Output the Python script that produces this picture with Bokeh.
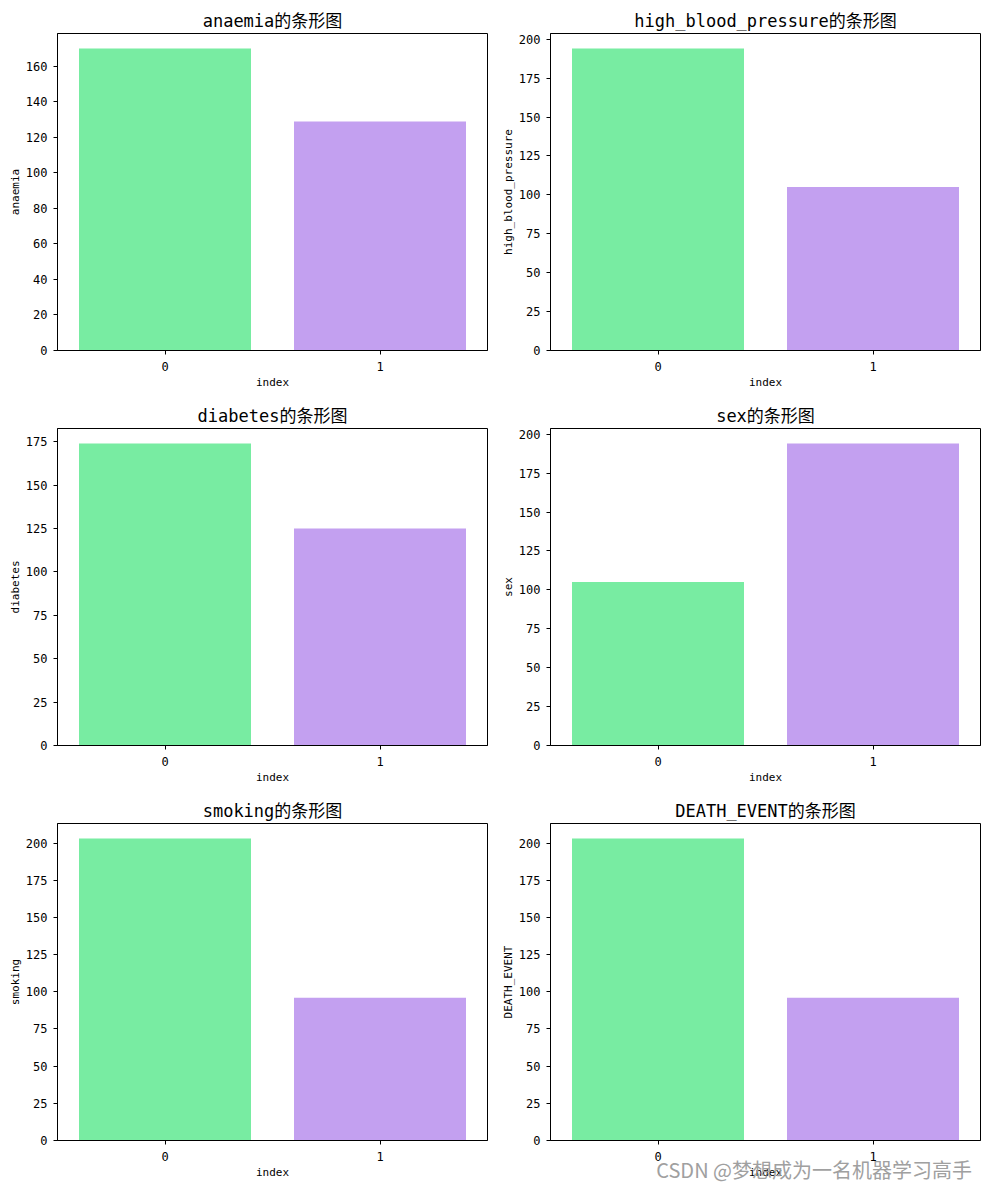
from bokeh.plotting import figure
from bokeh.layouts import column, row
from bokeh.models import Range1d, FixedTicker, SingleIntervalTicker, Div, ColumnDataSource
from bokeh.embed import file_html
from bokeh.resources import INLINE

# ---- data ----
columns_ = ["anaemia", "high_blood_pressure", "diabetes", "sex", "smoking", "DEATH_EVENT"]
categories = [0, 1]
count_0 = [170, 194, 174, 105, 203, 203]
count_1 = [129, 105, 125, 194, 96, 96]
tick_steps = [20, 25, 25, 25, 25, 25]
bar_colors = ["#78eca2", "#c3a0f0"]
watermark = "CSDN @梦想成为一名机器学习高手"

FONT = "DejaVu Sans Mono, Noto Sans CJK SC"


def make_fig(i, left_side, row_idx):
    name = columns_[i]
    vals = [count_0[i], count_1[i]]
    w = 492 if left_side else 489
    top_border = 33 if row_idx == 0 else 28
    bottom_border = 47 if row_idx == 2 else 50
    h = top_border + 317 + bottom_border
    p = figure(width=w, height=h, output_backend="svg", toolbar_location=None,
               x_range=Range1d(-0.5, 1.5), y_range=Range1d(0, max(vals) * 1.05),
               min_border_left=57 if left_side else 58,
               min_border_right=5 if left_side else 1,
               min_border_top=top_border, min_border_bottom=bottom_border,
               title=name + "的条形图")
    src = ColumnDataSource(dict(x=categories, top=vals, color=bar_colors))
    p.vbar(x="x", top="top", width=0.8, fill_color="color", line_color=None, source=src)
    p.title.text_font = FONT
    p.title.text_font_size = "17px"
    p.title.text_font_style = "normal"
    p.title.align = "center"
    p.title.standoff = 6
    p.title.text_color = "black"
    p.xgrid.visible = False
    p.ygrid.visible = False
    p.outline_line_color = "black"
    p.outline_line_alpha = 1.0
    p.background_fill_color = "white"
    p.xaxis.ticker = FixedTicker(ticks=categories)
    p.yaxis.ticker = SingleIntervalTicker(interval=tick_steps[i])
    p.xaxis.axis_label = "index"
    p.yaxis.axis_label = name
    for ax in (p.xaxis, p.yaxis):
        ax.axis_line_color = "black"
        ax.major_tick_line_color = "black"
        ax.minor_tick_line_color = None
        ax.major_tick_out = 4
        ax.major_tick_in = 0
        ax.major_label_text_font = FONT
        ax.major_label_text_font_size = "12px"
        ax.major_label_text_color = "black"
        ax.axis_label_text_font = FONT
        ax.axis_label_text_font_size = "11px"
        ax.axis_label_text_font_style = "normal"
        ax.axis_label_text_color = "black"
    p.xaxis.major_label_standoff = 7
    p.xaxis.axis_label_standoff = 2
    p.yaxis.major_label_standoff = 6
    p.yaxis.axis_label_standoff = 1
    return p


figs = []
for i in range(6):
    figs.append(make_fig(i, i % 2 == 0, i // 2))

wm = Div(text=watermark, width=330, height=26, margin=(-30, 0, 0, 642),
         styles={"color": "#a0a0a0", "font-size": "20px",
                 "font-family": "Noto Sans CJK SC, sans-serif",
                 "text-align": "right", "white-space": "nowrap",
                 "line-height": "26px", "z-index": "10"})

layout = column(row(figs[0], figs[1]), row(figs[2], figs[3]), row(figs[4], figs[5]), wm)

open("out.html", "w").write(file_html(layout, INLINE))
